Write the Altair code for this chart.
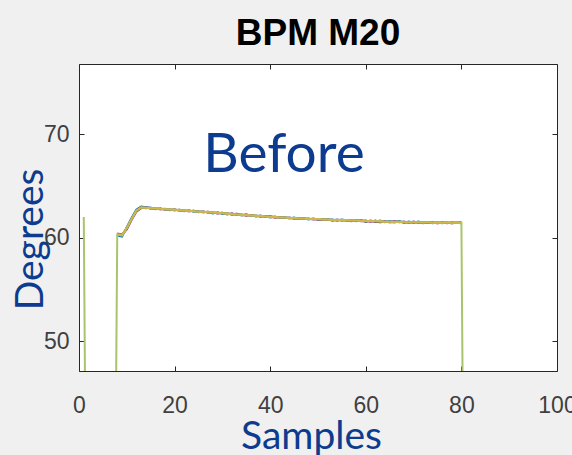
import altair as alt
import pandas as pd

# ---- data ----
samples_full = list(range(1, 82))
samples_run = list(range(8, 81))

# full trace incl. the drops to 0 (off-scale) around the run
trace_full = [62.0, 0, 0, 0, 0, 0, 0,
              60.3, 60.2, 60.9, 61.8, 62.6, 62.9, 62.9, 62.85, 62.8, 62.8,
              62.75, 62.7, 62.7, 62.65, 62.6, 62.6, 62.55, 62.5, 62.5, 62.45,
              62.4, 62.4, 62.35, 62.3, 62.3, 62.25, 62.2, 62.2, 62.15, 62.1,
              62.1, 62.05, 62.0, 62.0, 61.95, 61.95, 61.9, 61.9, 61.85, 61.85,
              61.8, 61.8, 61.8, 61.75, 61.75, 61.7, 61.7, 61.7, 61.7, 61.65,
              61.65, 61.65, 61.6, 61.6, 61.6, 61.6, 61.55, 61.55, 61.55, 61.55,
              61.5, 61.5, 61.5, 61.5, 61.5, 61.5, 61.45, 61.45, 61.45, 61.45,
              61.45, 61.45, 61.45,
              0]

trace_yellow = [60.35, 60.25, 60.95, 61.8, 62.6, 62.95, 62.9, 62.85, 62.85, 62.8,
                62.75, 62.75, 62.7, 62.65, 62.65, 62.6, 62.55, 62.5, 62.5, 62.45,
                62.45, 62.4, 62.35, 62.35, 62.3, 62.25, 62.25, 62.2, 62.15, 62.15,
                62.1, 62.05, 62.05, 62.0, 61.95, 61.95, 61.9, 61.9, 61.85, 61.85,
                61.8, 61.8, 61.8, 61.75, 61.75, 61.7, 61.7, 61.7, 61.65, 61.65,
                61.65, 61.6, 61.6, 61.6, 61.6, 61.55, 61.55, 61.55, 61.5, 61.55,
                61.5, 61.5, 61.5, 61.5, 61.45, 61.5, 61.45, 61.45, 61.45, 61.5,
                61.45, 61.45, 61.45]

trace_blue = [60.2, 60.1, 61.0, 61.9, 62.7, 63.0, 62.95, 62.9, 62.75, 62.85,
              62.7, 62.75, 62.65, 62.7, 62.55, 62.65, 62.5, 62.55, 62.45, 62.5,
              62.35, 62.45, 62.3, 62.35, 62.25, 62.3, 62.15, 62.25, 62.1, 62.15,
              62.05, 62.1, 61.95, 62.05, 61.9, 62.0, 61.85, 61.95, 61.8, 61.9,
              61.75, 61.85, 61.75, 61.8, 61.7, 61.75, 61.65, 61.75, 61.65, 61.7,
              61.6, 61.7, 61.55, 61.65, 61.55, 61.65, 61.5, 61.6, 61.5, 61.6,
              61.45, 61.55, 61.45, 61.55, 61.45, 61.5, 61.4, 61.5, 61.4, 61.5,
              61.4, 61.45, 61.4]

trace_purple = [60.4, 60.3, 60.8, 61.7, 62.5, 62.85, 62.95, 62.8, 62.85, 62.75,
                62.8, 62.65, 62.75, 62.6, 62.65, 62.55, 62.6, 62.45, 62.55, 62.4,
                62.45, 62.35, 62.4, 62.25, 62.35, 62.2, 62.25, 62.15, 62.2, 62.05,
                62.15, 62.0, 62.1, 61.95, 62.0, 61.9, 61.95, 61.85, 61.9, 61.8,
                61.85, 61.75, 61.8, 61.7, 61.8, 61.65, 61.75, 61.65, 61.7, 61.6,
                61.7, 61.6, 61.65, 61.55, 61.65, 61.5, 61.6, 61.5, 61.6, 61.5,
                61.55, 61.45, 61.55, 61.45, 61.5, 61.45, 61.5, 61.4, 61.5, 61.4,
                61.5, 61.45, 61.5]

trace_orange = [60.3, 60.25, 60.95, 61.85, 62.65, 62.95, 62.85, 62.9, 62.8, 62.75,
                62.75, 62.7, 62.65, 62.7, 62.6, 62.55, 62.6, 62.5, 62.45, 62.5,
                62.4, 62.35, 62.4, 62.3, 62.25, 62.3, 62.2, 62.15, 62.2, 62.1,
                62.05, 62.1, 62.0, 61.95, 62.0, 61.9, 61.9, 61.85, 61.85, 61.8,
                61.8, 61.8, 61.75, 61.7, 61.75, 61.7, 61.65, 61.7, 61.65, 61.6,
                61.65, 61.6, 61.55, 61.6, 61.55, 61.5, 61.55, 61.5, 61.5, 61.55,
                61.45, 61.5, 61.45, 61.5, 61.4, 61.5, 61.45, 61.4, 61.45, 61.45,
                61.4, 61.45, 61.45]

series_names = ["a_orange", "b_blue", "c_purple", "d_green", "e_yellow"]
series_colors = ["#D95319", "#0072BD", "#7E2F8E", "#A9C46C", "#CDB84A"]
series_widths = [2.0, 2.0, 2.0, 1.3, 2.4]

x_ticks = [0, 20, 40, 60, 80, 100]
y_ticks = [50, 60, 70]

rows = []
for s, v in zip(samples_run, trace_orange):
    rows.append({"sample": s, "value": v, "series": "a_orange"})
for s, v in zip(samples_run, trace_blue):
    rows.append({"sample": s, "value": v, "series": "b_blue"})
for s, v in zip(samples_run, trace_purple):
    rows.append({"sample": s, "value": v, "series": "c_purple"})
for s, v in zip(samples_full, trace_full):
    rows.append({"sample": s, "value": v, "series": "d_green"})
for s, v in zip(samples_run, trace_yellow):
    rows.append({"sample": s, "value": v, "series": "e_yellow"})
df = pd.DataFrame(rows)

TICK_FONT = "Liberation Sans, Arial, sans-serif"
BLUE = "#0C3B8F"
GREY = "#404040"

x_scale = alt.Scale(domain=[0, 100], nice=False, zero=False)
y_scale = alt.Scale(domain=[47.1, 76.8], nice=False, zero=False)

common_axis = dict(domain=False, grid=False, tickSize=5, offset=-5,
                   tickColor="#262626", tickWidth=1,
                   labelFont=TICK_FONT, labelFontSize=23, labelColor=GREY,
                   labelFlush=False, labelOverlap=False)

lines = alt.Chart(df).mark_line(clip=True).encode(
    x=alt.X("sample:Q", scale=x_scale,
            axis=alt.Axis(orient="bottom", values=x_ticks, labelPadding=23,
                          title="Samples", titleFont="Lato", titleFontSize=39,
                          titleFontWeight="normal", titleColor=BLUE,
                          titleX=232, titleY=82, titleBaseline="alphabetic",
                          titleAlign="center", **common_axis)),
    y=alt.Y("value:Q", scale=y_scale,
            axis=alt.Axis(orient="left", values=y_ticks, labelPadding=10,
                          title="Degrees", titleFont="Lato", titleFontSize=39,
                          titleFontWeight="normal", titleColor=BLUE,
                          titleAngle=270, titleX=-42, titleY=175,
                          titleBaseline="alphabetic", titleAlign="center",
                          **common_axis)),
    color=alt.Color("series:N", scale=alt.Scale(domain=series_names, range=series_colors),
                    legend=None),
    strokeWidth=alt.StrokeWidth("series:N",
                                scale=alt.Scale(domain=series_names, range=series_widths),
                                legend=None),
)

box_axes = alt.Chart(df).mark_line(opacity=0).encode(
    x=alt.X("sample:Q", scale=x_scale,
            axis=alt.Axis(orient="top", values=x_ticks, labels=False, title=None,
                          **common_axis)),
    y=alt.Y("value:Q", scale=y_scale,
            axis=alt.Axis(orient="right", values=y_ticks, labels=False, title=None,
                          **common_axis)),
)

note = alt.Chart(pd.DataFrame({"t": ["Before"]})).mark_text(
    font="Lato", fontSize=55, color=BLUE, align="center", baseline="alphabetic"
).encode(text="t:N", x=alt.value(205), y=alt.value(108))

chart = alt.layer(lines, box_axes, note).resolve_scale(
    x="independent", y="independent"
).properties(
    width=478, height=307,
    title=alt.Title("BPM M20", font=TICK_FONT, fontSize=37, fontWeight="bold",
                    color="#000000", anchor="middle", baseline="alphabetic", offset=-18),
    autosize=alt.AutoSizeParams(type="none"),
    padding={"left": 79, "top": 64, "right": 15, "bottom": 84},
).configure(background="#F0F0F0").configure_view(
    fill="#FFFFFF", stroke="#262626", strokeWidth=1
)

chart.save("out.html", embed_options={"renderer": "svg", "actions": False})
